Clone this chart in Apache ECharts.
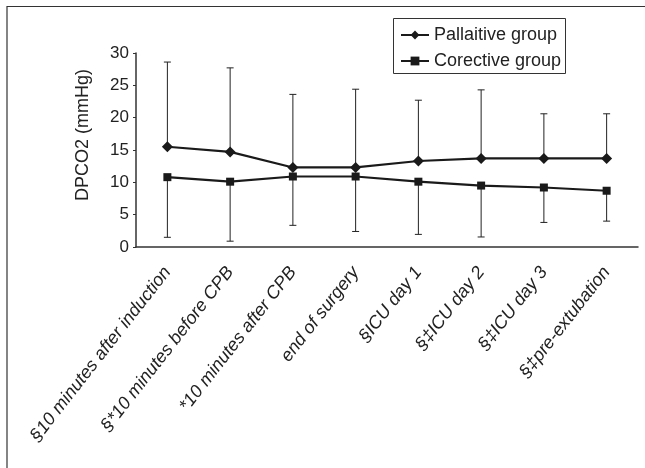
<!DOCTYPE html>
<html><head><meta charset="utf-8">
<script src="https://cdn.jsdelivr.net/npm/echarts@6/dist/echarts.min.js"></script>
<style>html,body{margin:0;padding:0;background:#fff}#c{width:645px;height:468px}</style>
</head><body><div id="c"></div>
<script>
const categories = ['§10 minutes after induction','§*10 minutes before CPB','*10 minutes after CPB','end of surgery','§ICU day 1','§‡ICU day 2','§‡ICU day 3','§‡pre-extubation'];
const pallMean = [15.5, 14.7, 12.3, 12.3, 13.3, 13.7, 13.7, 13.7];
const pallUpper = [28.6, 27.7, 23.6, 24.4, 22.7, 24.3, 20.6, 20.6];
const corrMean = [10.8, 10.1, 10.9, 10.9, 10.1, 9.5, 9.2, 8.7];
const corrLower = [1.5, 0.9, 3.35, 2.4, 1.95, 1.55, 3.8, 4.0];
const yTicks = [0, 5, 10, 15, 20, 25, 30];

const chart = echarts.init(document.getElementById('c'));
const font = 'Liberation Sans, Arial, sans-serif';
function errSeries(mean, bound, z) {
  return {
    type: 'custom', z: z, silent: true,
    data: mean.map((m, i) => [i, m, bound[i]]),
    renderItem: function (params, api) {
      const p0 = api.coord([api.value(0), api.value(1)]);
      const p1 = api.coord([api.value(0), api.value(2)]);
      const w = 3.5;
      return { type: 'group', children: [
        { type: 'line', shape: { x1: p0[0], y1: p0[1], x2: p1[0], y2: p1[1] }, style: { stroke: '#222', lineWidth: 1 } },
        { type: 'line', shape: { x1: p1[0] - w, y1: p1[1], x2: p1[0] + w, y2: p1[1] }, style: { stroke: '#222', lineWidth: 1 } }
      ]};
    }
  };
}
chart.setOption({
  animation: false,
  textStyle: { fontFamily: font },
  graphic: [
    { type: 'line', shape: { x1: 7, y1: 6.5, x2: 645, y2: 6.5 }, style: { stroke: '#333', lineWidth: 1.2 } },
    { type: 'line', shape: { x1: 7, y1: 6, x2: 7, y2: 468 }, style: { stroke: '#333', lineWidth: 1.2 } },
    { type: 'rect', shape: { x: 393.5, y: 18.5, width: 172, height: 55 }, style: { fill: 'none', stroke: '#333', lineWidth: 1 } }
  ],
  legend: {
    orient: 'vertical', left: 395, top: 21, itemGap: 8, itemWidth: 28, itemHeight: 11,
    textStyle: { fontFamily: font, fontSize: 18, color: '#222' },
    data: [
      { name: 'Pallaitive group' },
      { name: 'Corective group' }
    ]
  },
  grid: { left: 136, right: 7, top: 53, bottom: 221, containLabel: false },
  xAxis: {
    type: 'category', data: categories, boundaryGap: true,
    axisLine: { lineStyle: { color: '#333', width: 1.5 } },
    axisTick: { show: false },
    axisLabel: { rotate: 52, interval: 0, fontStyle: 'italic', fontSize: 18, color: '#222', fontFamily: font, margin: 22 }
  },
  yAxis: {
    type: 'value', min: 0, max: 30, interval: 5,
    name: 'DPCO2 (mmHg)', nameLocation: 'middle', nameGap: 44,
    nameTextStyle: { fontSize: 18, color: '#222', fontFamily: font, padding: [0, 0, 0, 30] },
    axisLine: { show: true, lineStyle: { color: '#333', width: 1.5 } },
    axisTick: { show: true, length: 3, lineStyle: { color: '#333' } },
    splitLine: { show: false },
    axisLabel: { fontSize: 17, color: '#222', fontFamily: font, margin: 7,
      formatter: v => yTicks.includes(v) ? String(v) : '' }
  },
  series: [
    errSeries(pallMean, pallUpper, 1),
    errSeries(corrMean, corrLower, 1),
    { name: 'Pallaitive group', type: 'line', data: pallMean, symbol: 'diamond', symbolSize: 11, z: 3,
      lineStyle: { color: '#1a1a1a', width: 2.2 }, itemStyle: { color: '#1a1a1a' } },
    { name: 'Corective group', type: 'line', data: corrMean, symbol: 'rect', symbolSize: 8, z: 3,
      lineStyle: { color: '#1a1a1a', width: 2.2 }, itemStyle: { color: '#1a1a1a' } }
  ]
});
</script></body></html>
